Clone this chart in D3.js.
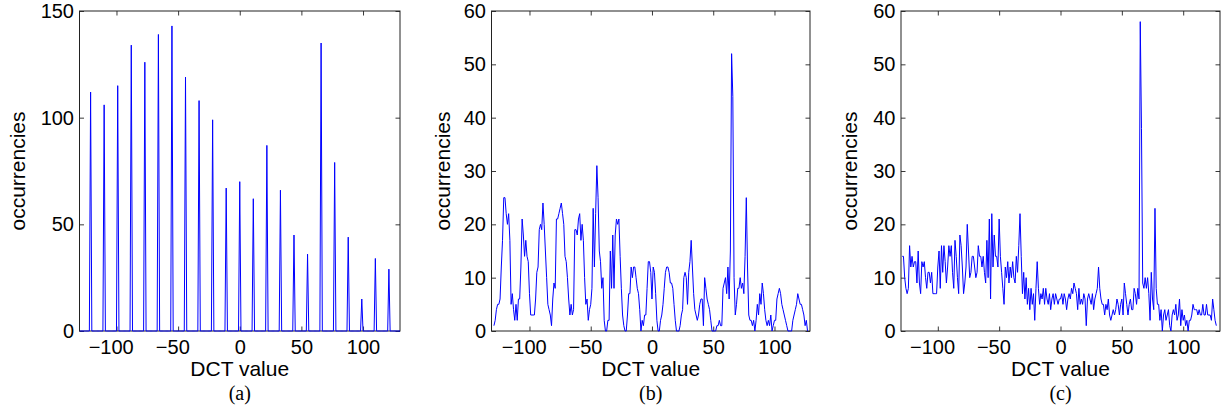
<!DOCTYPE html>
<html><head><meta charset="utf-8">
<script src="https://cdn.jsdelivr.net/npm/d3@7"></script>
<style>body{margin:0;background:#fff} svg{display:block}</style>
</head><body><svg id="chart" width="1227" height="410"></svg>
<script>
// ---- data ----
const xTicks = [-100, -50, 0, 50, 100];
const yTicksA = [0, 50, 100, 150];
const yTicksBC = [0, 10, 20, 30, 40, 50, 60];
const captions = ["(a)", "(b)", "(c)"];
const xLabel = "DCT value";
const yLabel = "occurrencies";

// (a) quantized DCT histogram: non-zero bins only
const binRangeA = [-130, 130];
const peakBinsA = [-121,-110,-99,-88,-77,-66,-55,-44,-33,-22,-11,0,11,22,33,44,55,66,77,88,99,110,121];
const peakCountsA = [112,106,115,134,126,139,143,119,108,99,67,70,62,87,66,45,36,135,79,44,15,34,29];

// (b), (c) histograms, one value per integer bin starting at binStartBC
const binStartBC = -129;
const countsB = [
 1,2,4,5,5,6,12,17,25,25,
 22,20,22,17,5,7,4,2,5,2,
 6,6,12,21,18,14,17,14,13,7,
 3,3,3,3,6,11,12,19,20,19,
 24,20,15,10,5,4,3,1,6,9,
 8,21,21,22,23,24,22,20,14,13,
 10,6,3,5,3,4,19,19,18,21,
 22,17,20,17,10,5,6,2,4,5,
 8,23,12,22,31,25,15,13,8,10,
 2,0,0,2,2,15,8,18,8,18,
 21,20,21,14,8,3,1,0,0,3,
 7,7,12,10,12,12,10,8,7,4,
 0,2,1,3,3,8,13,13,11,6,
 12,11,7,2,0,0,2,3,5,8,
 11,12,12,11,9,9,8,5,2,0,
 0,0,1,3,4,10,11,10,5,11,
 13,17,12,7,4,3,2,3,5,6,
 6,1,10,8,6,5,4,2,0,0,
 0,0,1,1,2,1,1,8,9,10,
 7,12,6,15,52,44,10,3,5,8,
 8,10,8,9,7,14,25,12,3,2,
 2,1,2,0,2,5,3,7,5,9,
 7,4,2,1,2,1,3,0,1,2,
 2,6,7,8,7,5,4,3,2,1,
 0,0,0,0,2,3,4,5,7,6,
 5,5,4,3,1,2,0
];
const countsC = [
 14,14,10,8,7,8,16,12,14,12,
 13,13,9,15,9,7,13,12,13,10,
 8,11,11,9,11,7,7,7,7,12,
 15,8,16,11,16,13,9,12,16,14,
 16,11,8,17,14,10,7,18,16,12,
 7,9,12,20,15,10,11,14,14,12,
 10,11,16,14,14,12,14,11,9,17,
 10,21,6,22,12,18,14,14,12,21,
 14,11,8,5,12,10,13,9,12,10,
 13,10,9,14,11,16,22,14,7,11,
 6,10,5,8,4,8,5,7,2,8,
 13,8,5,7,6,8,5,8,6,5,
 7,4,6,7,5,7,6,5,6,6,
 7,5,7,6,4,6,7,6,8,7,
 9,8,7,4,8,5,6,5,7,6,
 1,6,7,6,5,7,4,6,7,8,
 12,8,6,5,5,3,5,4,6,3,
 2,3,4,3,4,6,5,3,5,6,
 3,9,7,5,3,5,6,4,4,8,
 7,5,8,6,58,38,9,8,10,8,
 10,7,2,11,6,4,23,8,5,5,
 2,4,0,3,4,2,3,4,1,0,
 3,4,3,5,2,3,6,1,4,2,
 3,1,2,0,2,2,3,5,4,4,
 4,3,4,3,3,5,3,3,5,3,
 3,3,2,6,4,2,1
];

// ---- build series ----
const seriesA = d3.range(binRangeA[0], binRangeA[1] + 1).map(b => {
  const i = peakBinsA.indexOf(b);
  return {bin: b, count: i >= 0 ? peakCountsA[i] : 0};
});
const seriesB = countsB.map((c, i) => ({bin: binStartBC + i, count: c}));
const seriesC = countsC.map((c, i) => ({bin: binStartBC + i, count: c}));

const panels = [
  {left: 79.5, right: 400, xd: [-130, 130], ymax: 150, yTicks: yTicksA, data: seriesA, cap: captions[0], ylx: 24.5},
  {left: 491.5, right: 810, xd: [-131, 129], ymax: 60, yTicks: yTicksBC, data: seriesB, cap: captions[1], ylx: 449.5},
  {left: 901, right: 1220, xd: [-130, 130], ymax: 60, yTicks: yTicksBC, data: seriesC, cap: captions[2], ylx: 857}
];
const plotTop = 11, plotBottom = 331;
const svg = d3.select("#chart");
const sans = "'Liberation Sans', Arial, Helvetica, sans-serif";

panels.forEach((p, k) => {
  const x = d3.scaleLinear().domain(p.xd).range([p.left, p.right]);
  const y = d3.scaleLinear().domain([0, p.ymax]).range([plotBottom, plotTop]);
  const g = svg.append("g");

  g.append("clipPath").attr("id", "clip" + k).append("rect")
    .attr("x", p.left).attr("y", plotTop - 1).attr("width", p.right - p.left).attr("height", plotBottom - plotTop + 2);

  // axes
  const ax = g.append("g").attr("transform", `translate(0,${plotBottom})`)
    .call(d3.axisBottom(x).tickValues(xTicks).tickSizeInner(-4.5).tickSizeOuter(0).tickPadding(9));
  ax.selectAll("text").attr("x", d => d < 0 ? -5.8 : 0);
  g.append("g").attr("transform", `translate(0,${plotTop})`)
    .call(d3.axisTop(x).tickValues(xTicks).tickSizeInner(-4.5).tickSizeOuter(0).tickFormat(""));
  g.append("g").attr("transform", `translate(${p.left},0)`)
    .call(d3.axisLeft(y).tickValues(p.yTicks).tickSizeInner(-4.5).tickSizeOuter(0).tickPadding(5.5));
  g.append("g").attr("transform", `translate(${p.right},0)`)
    .call(d3.axisRight(y).tickValues(p.yTicks).tickSizeInner(-4.5).tickSizeOuter(0).tickFormat(""));
  g.selectAll(".domain").remove();
  g.selectAll(".tick line").attr("stroke", "#222").attr("stroke-width", 0.9);
  g.selectAll(".tick text").attr("font-family", sans).attr("font-size", 20).attr("fill", "#000");

  g.append("rect").attr("x", p.left).attr("y", plotTop).attr("width", p.right - p.left).attr("height", plotBottom - plotTop)
    .attr("fill", "none").attr("stroke", "#222").attr("stroke-width", 1);

  // data line
  const line = d3.line().x(d => x(d.bin)).y(d => y(d.count));
  g.append("path").datum(p.data).attr("d", line).attr("clip-path", `url(#clip${k})`)
    .attr("fill", "none").attr("stroke", "#0000ff").attr("stroke-width", 1).attr("stroke-linejoin", "round");

  // labels
  const cx = (p.left + p.right) / 2;
  g.append("text").attr("x", cx).attr("y", 376).attr("text-anchor", "middle")
    .attr("font-family", sans).attr("font-size", 21).text(xLabel);
  g.append("text").attr("transform", `translate(${p.ylx},${(plotTop + plotBottom) / 2}) rotate(-90)`)
    .attr("text-anchor", "middle").attr("font-family", sans).attr("font-size", 21).text(yLabel);
  g.append("text").attr("x", cx).attr("y", 400).attr("text-anchor", "middle")
    .attr("font-family", "'Liberation Serif', 'Times New Roman', serif").attr("font-size", 20).text(p.cap);
});
</script></body></html>
